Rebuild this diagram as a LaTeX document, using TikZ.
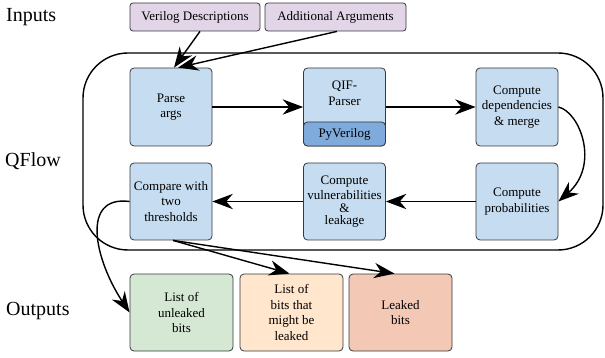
\documentclass[tikz,border=0pt]{standalone}
\usepackage{fontspec}
\setmainfont{Liberation Serif}
\usetikzlibrary{arrows.meta}
\definecolor{bluebox}{HTML}{C6DCF0}
\definecolor{pyblue}{HTML}{7EAADC}
\definecolor{lav}{HTML}{E1D5E7}
\definecolor{greenbox}{HTML}{D5E8D4}
\definecolor{orangebox}{HTML}{FFE6CC}
\definecolor{redbox}{HTML}{F3C8B5}
\definecolor{edge}{HTML}{36393D}
\newcommand\boxfont{\fontspec{Liberation Serif}\fontsize{13}{15.5}\selectfont}
\newcommand\titlefont{\fontspec{Liberation Serif}\fontsize{20}{24}\selectfont}
\tikzset{
  box/.style={draw=edge, line width=0.8pt, rounded corners=4pt, fill=bluebox, align=center,
    minimum width=82pt, minimum height=78pt, inner sep=0pt, font=\boxfont},
  inbox/.style={draw=edge, line width=0.8pt, rounded corners=3pt, fill=lav, align=center,
    minimum height=28pt, inner sep=0pt, font=\boxfont},
  outbox/.style={draw=edge, line width=0.8pt, rounded corners=4pt, align=center,
    minimum width=103pt, minimum height=77pt, inner sep=0pt, font=\boxfont},
  title/.style={anchor=west, inner sep=0pt, font=\titlefont},
  conn/.style={line width=1.4pt, -{Stealth[scale=2.2]}},
}
\begin{document}
\begin{tikzpicture}[x=1pt,y=-1pt]
\useasboundingbox (0,0) rectangle (605,358);
% titles
\node[title] (tin) at (6,17) {Inputs};
\node[title] (tflow) at (5,161) {QFlow};
\node[title] (tout) at (6,311) {Outputs};
% container
\node[draw, line width=1.4pt, rounded corners=45pt, minimum width=520pt, minimum height=197pt, inner sep=0pt] (flow) at (343,151.5) {};
% inputs
\node[inbox, minimum width=130pt] (vd) at (195,17) {Verilog Descriptions};
\node[inbox, minimum width=141pt] (aa) at (335.5,17) {Additional Arguments};
% row 1
\node[box] (parse) at (171,107) {Parse\\args};
\node[box] (qif) at (344.5,107) {};
\node[draw=edge, line width=0.8pt, fill=pyblue, rounded corners=4pt, minimum width=82pt, minimum height=24pt, inner sep=0pt, font=\boxfont] (py) at (344.5,134) {PyVerilog};
\node[align=center, inner sep=0pt, font=\boxfont] (qiftxt) at (344.5,93.5) {QIF-\\Parser};
\node[box] (deps) at (517,107) {Compute\\dependencies\\\&\ merge};
% row 2
\node[box, minimum height=77pt] (probs) at (517,201.5) {Compute\\probabilities};
\node[box, minimum height=77pt] (vuln) at (344.5,201.5) {Compute\\vulnerabilities\\[-3pt]\&\\[-3pt]leakage};
\node[box, minimum height=77pt] (cmp) at (171,201.5) {Compare with\\two\\thresholds};
% outputs
\node[outbox, fill=greenbox] (unl) at (181.5,312.5) {List of\\unleaked\\bits};
\node[outbox, fill=orangebox] (maybe) at (291.5,312.5) {List of\\bits that\\might be\\leaked};
\node[outbox, fill=redbox] (leak) at (400.5,312.5) {Leaked\\bits};
% connectors
\draw[conn] ([xshift=5pt]vd.south) -- ([xshift=3pt]parse.north);
\draw[conn] ([xshift=1.5pt]aa.south) -- ([xshift=7pt]parse.north);
\draw[conn] (parse.east) -- (qif.west);
\draw[conn] (qif.east) -- (deps.west);
\draw[conn] (deps.east) .. controls (580,112) and (600,165) .. (probs.east);
\draw[conn] (probs.west) -- (vuln.east);
\draw[conn] (vuln.west) -- (cmp.west -| cmp.east);
\draw[conn] (cmp.west) .. controls (80,195) and (95,260) .. (unl.west);
\draw[conn] ([xshift=2pt]cmp.south) -- ([xshift=-2pt]maybe.north);
\draw[conn] ([xshift=2pt]cmp.south) -- ([xshift=-6pt]leak.north);
\end{tikzpicture}
\end{document}
